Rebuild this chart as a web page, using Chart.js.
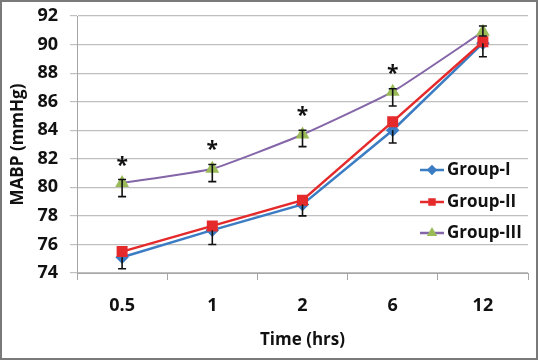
<!DOCTYPE html>
<html>
<head>
<meta charset="utf-8">
<script src="https://cdn.jsdelivr.net/npm/chart.js@4.4.0/dist/chart.umd.min.js"></script>
<style>
  html, body { margin: 0; padding: 0; background: #fff; }
  #wrap { width: 538px; height: 360px; }
</style>
</head>
<body>
<div id="wrap"><canvas id="myChart" width="538" height="360"></canvas></div>
<script>
const timeLabels = ['0.5', '1', '2', '6', '12'];
const group1 = [75.1, 77.0, 78.8, 84.0, 90.1];
const group2 = [75.5, 77.3, 79.1, 84.6, 90.2];
const group3 = [80.3, 81.3, 83.7, 86.7, 90.9];

// error bars (down / up)
const group1Low = [0.8, 1.0, 0.8, 0.9, 0.95];
const group1High = [0, 0, 0, 0, 0];
const group3Low = [0.95, 0.9, 0.85, 1.0, 0.3];
const group3High = [0.25, 0.3, 0.3, 0.2, 0.4];

// significance stars above Group-III
const starValues = [82.0, 83.1, 85.5, 88.4, null];

const FONT = '"Open Sans", sans-serif';

// white background + grey frame
const frame = {
    id: 'frame',
    beforeDraw(chart) {
        const c = chart.ctx;
        c.save();
        c.fillStyle = '#fff';
        c.fillRect(0, 0, chart.width, chart.height);
        c.strokeStyle = '#7a7a7a';
        c.lineWidth = 2;
        c.strokeRect(1, 1, chart.width - 2, chart.height - 2);
        c.restore();
    }
};

const errorBars = {
    id: 'errorBars',
    afterDatasetsDraw(chart) {
        const c = chart.ctx;
        const y = chart.scales.y;
        c.save();
        c.strokeStyle = '#111';
        c.lineWidth = 1.6;
        chart.data.datasets.forEach((ds, i) => {
            if (!ds.errLow) return;
            const meta = chart.getDatasetMeta(i);
            meta.data.forEach((pt, j) => {
                const v = ds.data[j];
                const lo = y.getPixelForValue(v - ds.errLow[j]);
                const hi = y.getPixelForValue(v + ds.errHigh[j]);
                c.beginPath();
                c.moveTo(pt.x, hi);
                c.lineTo(pt.x, lo);
                if (ds.errLow[j] > 0) { c.moveTo(pt.x - 4, lo); c.lineTo(pt.x + 4, lo); }
                if (ds.errHigh[j] > 0) { c.moveTo(pt.x - 4, hi); c.lineTo(pt.x + 4, hi); }
                c.stroke();
            });
        });
        c.restore();
    }
};

const stars = {
    id: 'stars',
    afterDatasetsDraw(chart) {
        const c = chart.ctx;
        const x = chart.scales.x;
        const y = chart.scales.y;
        c.save();
        c.fillStyle = '#111';
        c.font = 'bold 21px ' + FONT;
        c.textAlign = 'center';
        c.textBaseline = 'alphabetic';
        starValues.forEach((v, j) => {
            if (v === null) return;
            c.fillText('*', x.getPixelForValue(j), y.getPixelForValue(v) + 13);
        });
        c.restore();
    }
};

// legend drawn inside the plot, at the right
const innerLegend = {
    id: 'innerLegend',
    afterDraw(chart) {
        const c = chart.ctx;
        const rows = [170, 202, 233];
        c.save();
        c.font = 'bold 17px ' + FONT;
        c.textBaseline = 'middle';
        chart.data.datasets.forEach((ds, i) => {
            const yy = rows[i];
            c.strokeStyle = ds.borderColor;
            c.lineWidth = 2.5;
            c.beginPath();
            c.moveTo(420, yy);
            c.lineTo(444, yy);
            c.stroke();
            c.fillStyle = ds.pointBackgroundColor;
            c.strokeStyle = ds.pointBorderColor;
            Chart.helpers.drawPoint(c, {
                pointStyle: ds.pointStyle,
                radius: 3.5,
                rotation: 0,
                borderWidth: 1
            }, 432, yy);
            c.fillStyle = '#111';
            c.fillText(ds.label, 447, yy);
        });
        c.restore();
    }
};

const ctx = document.getElementById('myChart');
new Chart(ctx, {
    type: 'line',
    data: {
        labels: timeLabels,
        datasets: [{
            label: 'Group-I',
            data: group1,
            errLow: group1Low,
            errHigh: group1High,
            borderColor: '#3b7cc3',
            pointBackgroundColor: '#3b7cc3',
            pointBorderColor: '#3b7cc3',
            pointStyle: 'rectRot',
            pointRadius: 5,
            borderWidth: 2.5,
            tension: 0,
            order: 3
        }, {
            label: 'Group-II',
            data: group2,
            borderColor: '#e52a2c',
            pointBackgroundColor: '#e52a2c',
            pointBorderColor: '#e52a2c',
            pointStyle: 'rect',
            pointRadius: 6,
            borderWidth: 2.5,
            tension: 0,
            order: 2
        }, {
            label: 'Group-III',
            data: group3,
            errLow: group3Low,
            errHigh: group3High,
            borderColor: '#8466a8',
            pointBackgroundColor: '#9bbb59',
            pointBorderColor: '#9bbb59',
            pointStyle: 'triangle',
            pointRadius: 6,
            borderWidth: 2,
            tension: 0.15,
            order: 1
        }]
    },
    options: {
        responsive: false,
        animation: false,
        layout: { padding: { top: 16, right: 10, bottom: 0, left: 0 } },
        scales: {
            x: {
                offset: true,
                afterFit(scale) { scale.height = 87; },
                grid: { offset: true, drawOnChartArea: false, tickLength: 7, color: '#a6a6a6' },
                border: { color: '#a6a6a6' },
                ticks: { color: '#111', padding: 15, font: { family: FONT, size: 18, weight: 'bold' } },
                title: {
                    display: true,
                    text: 'Time (hrs)',
                    color: '#111',
                    padding: { top: 0, bottom: 10 },
                    font: { family: FONT, size: 17, weight: 'bold' }
                }
            },
            y: {
                min: 74,
                max: 92,
                afterFit(scale) {
                    scale.width = 77;
                    scale.paddingTop = 0;
                    scale.paddingBottom = 0;
                },
                grid: { color: '#bfbfbf', tickLength: 7, lineWidth: 1.2 },
                border: { color: '#a6a6a6' },
                ticks: { stepSize: 2, color: '#111', padding: 12, font: { family: FONT, size: 18, weight: 'bold' } },
                title: {
                    display: true,
                    text: 'MABP (mmHg)',
                    color: '#111',
                    padding: { top: 8, bottom: 0 },
                    font: { family: FONT, size: 17, weight: 'bold' }
                }
            }
        },
        plugins: {
            legend: { display: false },
            tooltip: { enabled: false }
        }
    },
    plugins: [frame, errorBars, stars, innerLegend]
});
</script>
</body>
</html>
